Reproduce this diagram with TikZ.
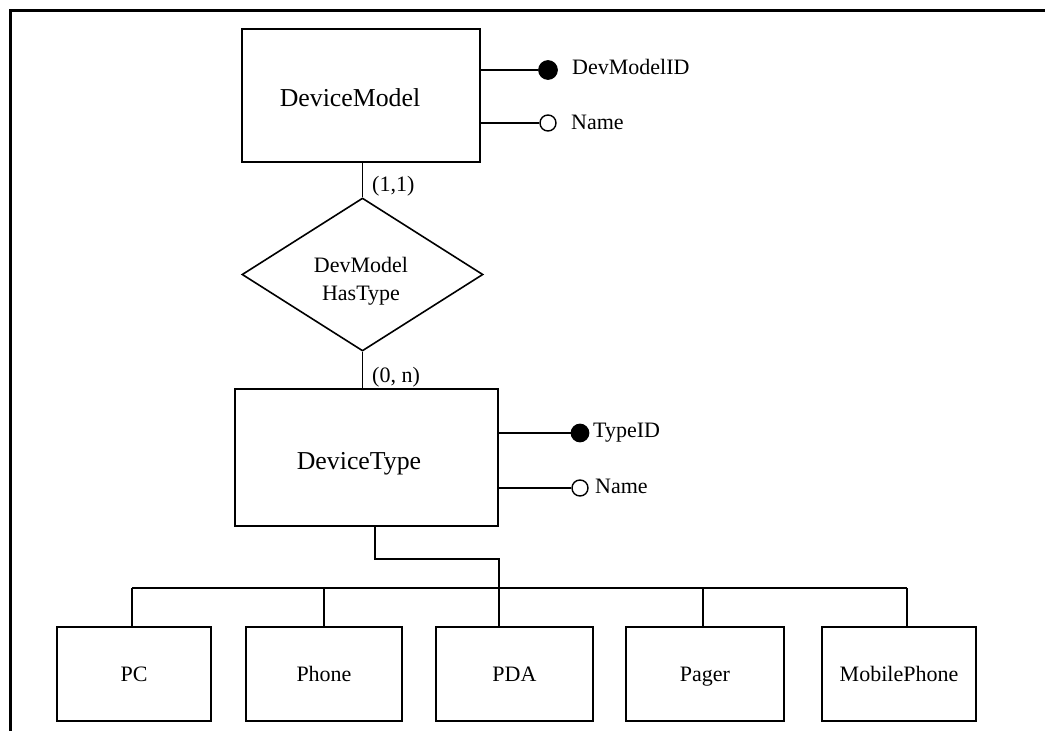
\documentclass[tikz,border=0pt]{standalone}
\usepackage{fontspec}
\setmainfont{Liberation Serif}
\usetikzlibrary{shapes.geometric}
\begin{document}
\begin{tikzpicture}[x=1pt,y=-1pt,
  entbox/.style={draw,line width=1.3pt,inner sep=0pt},
  subbox/.style={entbox,minimum width=156pt,minimum height=94pt,
    text height=15pt,text depth=0pt,font=\fontsize{22}{26}\selectfont},
  relbox/.style={draw,shape=diamond,line width=1.6pt,inner sep=0pt,
    minimum width=241pt,minimum height=153pt,aspect=1.575},
  reltext/.style={inner sep=0pt,align=center,font=\fontsize{22}{28}\selectfont},
  keydot/.style={circle,draw,fill=black,line width=1.2pt,minimum size=18.5pt,inner sep=0pt},
  attdot/.style={circle,draw,fill=white,line width=1.4pt,minimum size=16pt,inner sep=0pt},
  lbl/.style={anchor=base west,inner sep=0pt,font=\fontsize{22}{26}\selectfont},
  bigtext/.style={anchor=base,inner sep=0pt,font=\fontsize{25.8}{30}\selectfont},
  link/.style={line width=1.3pt}]
\useasboundingbox (0,0) rectangle (1045,731);

% open frame: top and left edges only
\draw[line width=3pt] (10,731) -- (10,10) -- (1045,10);

% entity DeviceModel with its attributes
\node[entbox,minimum width=238pt,minimum height=133pt] (dm) at (361,95.5) {};
\node[bigtext] (dmtext) at (350,106) {DeviceModel};
\node[keydot] (dmkey) at (548,70) {};
\node[attdot] (dmname) at (548,123) {};
\draw[link] (dmkey) -- (dmkey -| dm.east);
\draw[link] (dmname) -- (dmname -| dm.east);
\node[lbl] (dmkeylbl) at (572,74) {DevModelID};
\node[lbl] (dmnamelbl) at (571,129) {Name};

% relationship
\node[relbox] (rel) at (362.5,274.5) {};
\node[reltext] (reltxt) at (361,281) {DevModel\\HasType};
\draw[link] (rel.north |- dm.south) -- (rel.north);
\node[lbl] (card1) at (372,191) {(1,1)};

% entity DeviceType with its attributes
\node[entbox,minimum width=263pt,minimum height=137pt] (dt) at (366.5,457.5) {};
\node[bigtext] (dttext) at (359,469) {DeviceType};
\draw[link] (rel.south) -- (rel.south |- dt.north);
\node[lbl] (card2) at (372,382) {(0, n)};
\node[keydot,minimum size=17.5pt] (dtkey) at (580,433) {};
\node[attdot] (dtname) at (580,488) {};
\draw[link] (dtkey) -- (dtkey -| dt.east);
\draw[link] (dtname) -- (dtname -| dt.east);
\node[lbl] (dtkeylbl) at (593,437) {TypeID};
\node[lbl] (dtnamelbl) at (595,493) {Name};

% subtypes
\node[subbox,minimum width=154pt] (pc) at (134,674) {PC};
\node[subbox] (ph) at (324,674) {Phone};
\node[subbox,minimum width=157pt] (pda) at (514.5,674) {PDA};
\node[subbox,minimum width=158pt] (pg) at (705,674) {Pager};
\node[subbox,minimum width=154pt] (mob) at (899,674) {MobilePhone};

% specialisation connector
\coordinate (dtb) at (375,526);
\coordinate (jn) at (499,559);
\coordinate (busL) at (132,588);
\coordinate (busPh) at (324,588);
\coordinate (busPg) at (703,588);
\coordinate (busR) at (907,588);
\draw[link] (dtb) |- (jn) -- (jn |- pda.north);
\draw[link] (busL) -- (busR);
\draw[link] (busL) -- (busL |- pc.north);
\draw[link] (busPh) -- (busPh |- ph.north);
\draw[link] (busPg) -- (busPg |- pg.north);
\draw[link] (busR) -- (busR |- mob.north);
\end{tikzpicture}
\end{document}
